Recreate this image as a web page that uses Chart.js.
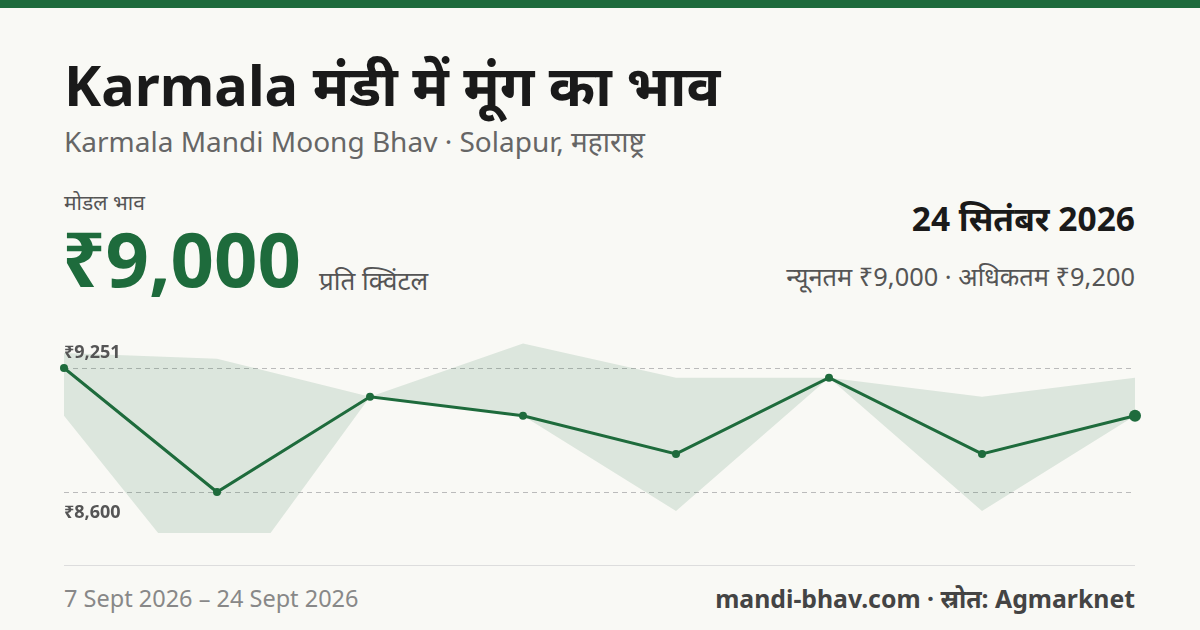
<!DOCTYPE html>
<html><head><meta charset="utf-8">
<script src="https://cdn.jsdelivr.net/npm/chart.js@4"></script>
<style>
body{margin:0;width:1200px;height:630px;background:#f9f9f5;font-family:"Noto Sans",sans-serif;position:relative;overflow:hidden}
.bar{position:absolute;left:0;top:0;width:1200px;height:8px;background:#1e6b3c}
.t{position:absolute;white-space:nowrap}
#wrap{position:absolute;left:44px;top:320px;width:1111px;height:233px}
</style></head><body>
<div class="bar"></div>
<div class="t" style="left:64px;top:46px;font-size:56px;font-weight:700;color:#1a1a1a">Karmala मंडी में मूंग का भाव</div>
<div class="t" style="left:64px;top:122px;font-size:28px;color:#666">Karmala Mandi Moong Bhav · Solapur, महाराष्ट्र</div>
<div class="t" style="left:64px;top:188px;font-size:21px;color:#555">मोडल भाव</div>
<div class="t" style="left:62px;top:216px;font-size:76px;font-weight:700;color:#1e6b3c;line-height:1.1">₹9,000</div>
<div class="t" style="left:319px;top:262px;font-size:26px;color:#555">प्रति क्विंटल</div>
<div class="t" style="right:65px;top:195px;font-size:33.5px;font-weight:700;color:#1a1a1a">24 सितंबर 2026</div>
<div class="t" style="right:65px;top:259px;font-size:25.4px;color:#555">न्यूनतम ₹9,000 · अधिकतम ₹9,200</div>
<div style="position:absolute;left:64px;top:565px;width:1071px;height:1px;background:#ddd"></div>
<div class="t" style="left:64px;top:582px;font-size:23.5px;color:#888">7 Sept 2026 – 24 Sept 2026</div>
<div class="t" style="right:65px;top:581px;font-size:24.8px;font-weight:700;color:#444">mandi-bhav.com · स्रोत: Agmarknet</div>
<div id="wrap"><canvas id="c"></canvas></div>
<script>
const dates = ["7 Sep","9 Sep","12 Sep","14 Sep","16 Sep","19 Sep","22 Sep","24 Sep"];
const modal = [9251, 8600, 9100, 9000, 8800, 9200, 8800, 9000];
const maxPrice = [9330, 9300, 9100, 9380, 9200, 9200, 9100, 9200];
const minPrice = [9000, 8000, 9100, 9000, 8500, 9200, 8500, 9000];
const tickValues = [9251, 8600];
const tickLabels = ["₹9,251", "₹8,600"];

const green = "#1e6b3c";
const gridPlugin = {
  id: "grid",
  beforeDatasetsDraw(chart) {
    const { ctx, chartArea: a, scales: { y } } = chart;
    ctx.save();
    ctx.strokeStyle = "#bbb"; ctx.lineWidth = 1; ctx.setLineDash([5, 4]);
    tickValues.forEach(v => {
      const py = Math.round(y.getPixelForValue(v)) + 0.5;
      ctx.beginPath(); ctx.moveTo(a.left, py); ctx.lineTo(a.right, py); ctx.stroke();
    });
    ctx.restore();
  },
  afterDatasetsDraw(chart) {
    const { ctx, chartArea: a, scales: { y } } = chart;
    ctx.save();
    ctx.font = "bold 18px 'Noto Sans', sans-serif"; ctx.fillStyle = "#555";
    tickLabels.forEach((t, i) => {
      const py = y.getPixelForValue(tickValues[i]);
      ctx.textBaseline = i === 0 ? "bottom" : "top";
      ctx.fillText(t, a.left, i === 0 ? py - 6 : py + 12);
    });
    ctx.restore();
  }
};

new Chart(document.getElementById("c"), {
  type: "line",
  data: {
    labels: dates,
    datasets: [
      { data: maxPrice, borderWidth: 0, pointRadius: 0, fill: "+1", backgroundColor: "rgba(30,107,60,0.13)", tension: 0 },
      { data: minPrice, borderWidth: 0, pointRadius: 0, fill: false, tension: 0 },
      { data: modal, borderColor: green, borderWidth: 3, backgroundColor: green,
        pointRadius: modal.map((_, i) => i === modal.length - 1 ? 6 : 4), pointBorderWidth: 0, fill: false, tension: 0 }
    ]
  },
  options: {
    responsive: true, maintainAspectRatio: false, animation: false,
    layout: { padding: { left: 20, right: 20, top: 20, bottom: 20 } },
    plugins: { legend: { display: false }, tooltip: { enabled: false } },
    scales: {
      x: { display: false, offset: false },
      y: { display: false, min: 8385, max: 9398 }
    }
  },
  plugins: [gridPlugin]
});
</script>
</body></html>
